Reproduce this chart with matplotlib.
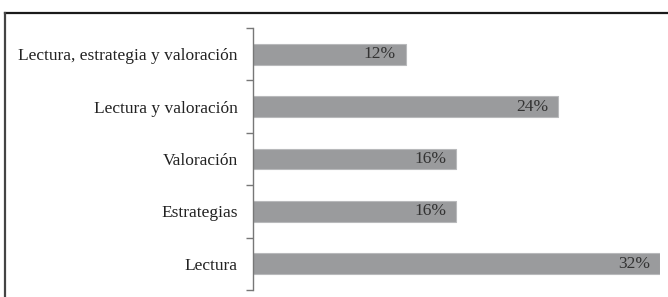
import numpy as np
import matplotlib.pyplot as plt
from matplotlib.lines import Line2D

categories = ['Lectura', 'Estrategias', 'Valoración', 'Lectura y valoración',
              'Lectura, estrategia y valoración']
values = [32, 16, 16, 24, 12]
value_labels = ['32%', '16%', '16%', '24%', '12%']

W, H = 668, 297
fig = plt.figure(figsize=(W / 100, H / 100), dpi=100)
ax = fig.add_axes([253 / W, 1 - 290 / H, (660 - 253) / W, (290 - 28) / H])

y = np.arange(len(categories))
ax.barh(y, values, height=0.4, color='#9a9b9d', edgecolor='#b8b9bb', linewidth=0.8)

ax.set_xlim(0, 32)
ax.set_ylim(-0.5, len(categories) - 0.5)

for yi, v, lab in zip(y, values, value_labels):
    ax.text(v - 0.8, yi, lab, ha='right', va='center', fontsize=12.5,
            family='Liberation Serif', color='#333333')

ax.set_yticks(y)
ax.set_yticklabels(categories, family='Liberation Serif', fontsize=12.5, color='#222222')
ax.tick_params(axis='y', which='major', length=0, pad=11)
ax.set_yticks(np.arange(-0.5, len(categories)), minor=True)
ax.tick_params(axis='y', which='minor', length=5, width=1, color='#777777')
ax.set_xticks([])

for s in ['top', 'right', 'bottom']:
    ax.spines[s].set_visible(False)
ax.spines['left'].set_color('#777777')
ax.spines['left'].set_linewidth(1)

# outer frame (top and left edges visible)
fig.add_artist(Line2D([4.5 / W, 1], [1 - 13 / H, 1 - 13 / H], color='#1a1a1a', lw=1.6,
                      transform=fig.transFigure))
fig.add_artist(Line2D([4.5 / W, 4.5 / W], [0, 1 - 13 / H], color='#444444', lw=1.6,
                      transform=fig.transFigure))

fig.savefig('out.png', dpi=100)
